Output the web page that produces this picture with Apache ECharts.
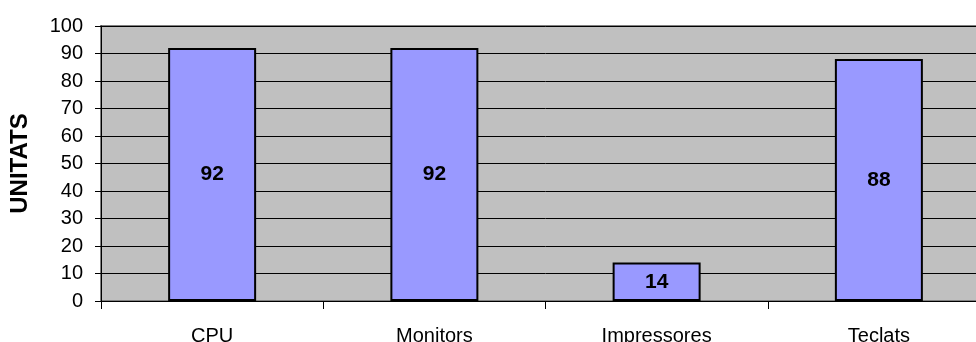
<!DOCTYPE html>
<html>
<head>
<meta charset="utf-8">
<script src="https://cdn.jsdelivr.net/npm/echarts@6/dist/echarts.min.js"></script>
<style>html,body{margin:0;padding:0;background:#fff;overflow:hidden;}#c{width:990px;height:342px;}</style>
</head>
<body>
<div id="c"></div>
<script>
const categories = ['CPU', 'Monitors', 'Impressores', 'Teclats'];
const values = [92, 92, 14, 88];
const yTicks = [0, 10, 20, 30, 40, 50, 60, 70, 80, 90, 100];
const yName = 'UNITATS';

const chart = echarts.init(document.getElementById('c'), null, {renderer: 'canvas'});
chart.setOption({
  animation: false,
  backgroundColor: '#ffffff',
  grid: {
    left: 101, top: 26, right: 0, bottom: 41,
    outerBoundsMode: 'none',
    show: true, backgroundColor: '#c0c0c0', borderColor: '#808080', borderWidth: 2
  },
  xAxis: {
    type: 'category',
    data: categories,
    axisLine: {show: true, lineStyle: {color: '#000', width: 1}},
    axisTick: {show: true, length: 8, lineStyle: {color: '#000'}},
    axisLabel: {color: '#000', fontFamily: 'Liberation Sans', fontSize: 20, margin: 25}
  },
  yAxis: {
    type: 'value',
    min: yTicks[0], max: yTicks[yTicks.length - 1], interval: 10,
    name: yName,
    nameLocation: 'middle',
    nameGap: 69,
    nameRotate: 90,
    nameTextStyle: {color: '#000', fontFamily: 'Liberation Sans', fontSize: 24, fontWeight: 'bold'},
    axisLine: {show: true, lineStyle: {color: '#000', width: 1}},
    axisTick: {show: true, length: 6, lineStyle: {color: '#000'}},
    axisLabel: {color: '#000', fontFamily: 'Liberation Sans', fontSize: 20, margin: 18},
    splitLine: {show: true, lineStyle: {color: '#000', width: 1}}
  },
  series: [{
    type: 'bar',
    data: values,
    barWidth: 88,
    itemStyle: {color: '#9999ff', borderColor: '#000', borderWidth: 2},
    label: {show: true, position: 'inside', color: '#000', fontFamily: 'Liberation Sans', fontSize: 21, fontWeight: 'bold'}
  }]
});
</script>
</body>
</html>
